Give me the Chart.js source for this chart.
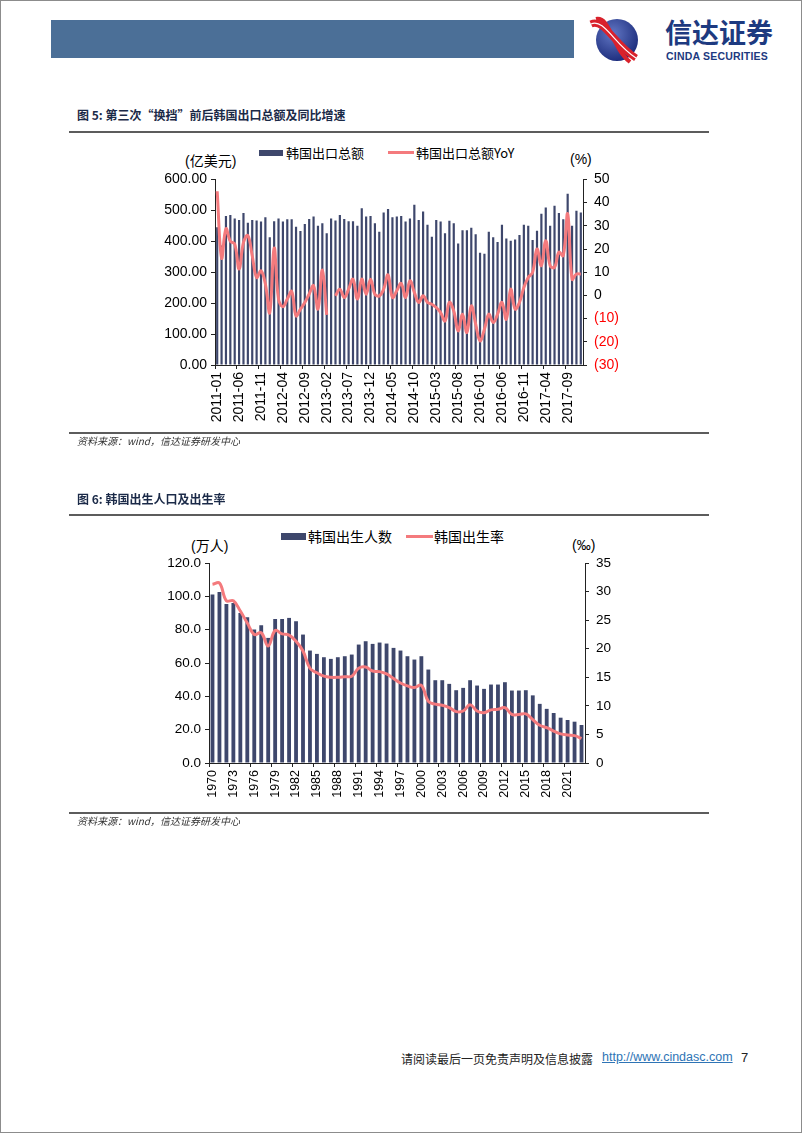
<!DOCTYPE html>
<html>
<head>
<meta charset="utf-8">
<script src="https://cdn.jsdelivr.net/npm/chart.js@4.4.0/dist/chart.umd.min.js"></script>
<style>
    html, body { margin: 0; padding: 0; background: #fff; }
    #page {
        position: relative; width: 802px; height: 1133px; box-sizing: border-box;
        border: 1px solid #8c8c8c; overflow: hidden;
        font-family: "Liberation Sans", Arial, "Noto Sans CJK SC", sans-serif; color: #000;
    }
    .abs { position: absolute; white-space: nowrap; }
    .band { left: 50px; top: 19px; width: 523px; height: 38px; background: #4b6f97; }
    .brand { left: 664px; top: 13px; font: bold 27px/36px "Noto Sans CJK SC", sans-serif; color: #1d3a80; }
    .brand-en { left: 665px; top: 49px; font: bold 10.5px/12px "Liberation Sans", Arial, sans-serif; color: #1d3a80; letter-spacing: 0.2px; }
    .fig-title { left: 76px; font: bold 12px "Noto Sans CJK SC", sans-serif; color: #1b2a48; }
    .rule { left: 68px; width: 640px; height: 2px; background: #5c5c5c; }
    .source { left: 76px; font: italic 10px "Noto Sans CJK SC", sans-serif; color: #333; }
    .legend-text { font-size: 13px; line-height: 16px; font-family: "Noto Sans CJK SC", sans-serif; }
    .axis-title { font-size: 14px; line-height: 16px; font-family: "Liberation Sans", "Noto Sans CJK SC", sans-serif; }
    .footer { top: 1049px; font: 12px "Noto Sans CJK SC", sans-serif; color: #222; }
    canvas { position: absolute; }
</style>
</head>
<body>
<div id="page">
    <!-- header -->
    <div class="abs band"></div>
    <svg class="abs" style="left:587px;top:15px" width="52" height="48" viewBox="0 0 52 48">
        <defs>
            <radialGradient id="lg" cx="40%" cy="35%" r="70%">
                <stop offset="0" stop-color="#6277c4"/>
                <stop offset="1" stop-color="#1a2a7a"/>
            </radialGradient>
        </defs>
        <circle cx="29" cy="24" r="21" fill="url(#lg)"/>
        <path d="M3 8 C 16 2, 26 28, 48 42" stroke="#d9222c" stroke-width="7" fill="none"/>
        <path d="M8 3 C 22 0, 24 32, 42 46" stroke="#d9222c" stroke-width="4" fill="none"/>
        <path d="M3 8 C 16 2, 26 28, 48 42" stroke="#fff" stroke-width="1.2" fill="none"/>
    </svg>
    <div class="abs brand">信达证券</div>
    <div class="abs brand-en">CINDA SECURITIES</div>

    <!-- figure 5 -->
    <div class="abs fig-title" style="top:105px">图 5: 第三次“换挡”前后韩国出口总额及同比增速</div>
    <div class="abs rule" style="top:130px"></div>
    <div class="abs" style="left:258px;top:149px;width:24px;height:6px;background:#3e476c"></div>
    <div class="abs legend-text" style="left:285px;top:144px">韩国出口总额</div>
    <div class="abs" style="left:387px;top:150px;width:26px;height:3px;background:#f47a7d"></div>
    <div class="abs legend-text" style="left:415px;top:144px">韩国出口总额YoY</div>
    <div class="abs axis-title" style="left:184px;top:152px">(亿美元)</div>
    <div class="abs axis-title" style="left:569px;top:150px">(%)</div>
    <canvas id="exportChart" width="490" height="277" style="left:140px;top:163px"></canvas>
    <div class="abs rule" style="top:431px"></div>
    <div class="abs source" style="top:432px">资料来源：wind，信达证券研发中心</div>

    <!-- figure 6 -->
    <div class="abs fig-title" style="top:489px">图 6: 韩国出生人口及出生率</div>
    <div class="abs rule" style="top:513px"></div>
    <div class="abs" style="left:280px;top:532px;width:25px;height:7px;background:#3e476c"></div>
    <div class="abs legend-text" style="left:307px;top:527px;font-size:14px">韩国出生人数</div>
    <div class="abs" style="left:405px;top:534px;width:27px;height:3px;background:#f47a7d"></div>
    <div class="abs legend-text" style="left:433px;top:527px;font-size:14px">韩国出生率</div>
    <div class="abs axis-title" style="left:190px;top:537px">(万人)</div>
    <div class="abs axis-title" style="left:571px;top:536px">(‰)</div>
    <canvas id="birthChart" width="500" height="265" style="left:130px;top:547px"></canvas>
    <div class="abs rule" style="top:811px"></div>
    <div class="abs source" style="top:812px">资料来源：wind，信达证券研发中心</div>

    <!-- footer -->
    <div class="abs footer" style="left:400px">请阅读最后一页免责声明及信息披露</div>
    <div class="abs footer" style="left:601px;font-family:'Liberation Sans',Arial,sans-serif;font-size:12.5px;color:#2e74b5;text-decoration:underline">http://www.cindasc.com</div>
    <div class="abs footer" style="left:740px;font-family:'Liberation Sans',Arial,sans-serif;font-size:13px">7</div>
</div>

<script>
/* ---------- data: Korea exports (monthly) ---------- */
const EXPORT_MONTHS = [];   // 2011-01 .. 2017-12
for (let y = 2011; y <= 2017; y++) {
    for (let m = 1; m <= 12; m++) EXPORT_MONTHS.push(y + '-' + String(m).padStart(2, '0'));
}

// 亿美元
const EXPORT_TOTAL = [
    445, 386, 482, 485, 474, 469, 491, 460, 469, 467, 464, 478,
    413, 465, 474, 464, 471, 471, 447, 433, 456, 472, 480, 450,
    458, 426, 474, 467, 485, 472, 465, 465, 450, 507, 480, 482,
    458, 431, 493, 504, 478, 480, 482, 464, 474, 518, 469, 496,
    453, 415, 469, 464, 426, 466, 458, 393, 436, 436, 444, 423,
    363, 360, 431, 413, 398, 453, 409, 402, 406, 420, 453, 450,
    404, 434, 489, 509, 450, 515, 491, 471, 554, 450, 499, 493
];

// %, null = no reading that month
const EXPORT_YOY = [
    44.9, 16.1, 28.7, 23.3, 22.2, 11.4, 22.9, 25.8, 17.1, 7.7, 10.6, 4.9,
    -7.4, 20.4, -1.6, -4.9, -1.6, 1.7, -8.8, -5.9, -3.1, 0.6, 4.2, -5.9,
    10.9, -8.4, null, -0.2, 2.7, -0.9, 2.7, 7.0, -1.6, 7.0, 0.5, 7.0,
    0.5, -0.2, 2.7, 8.9, -0.9, 2.0, 5.2, -0.9, 6.3, 1.3, -3.0, -0.2,
    -3.0, -3.8, -5.2, -7.4, -11.0, -3.0, -6.7, -15.3, -8.1, -16.0, -4.5, -12.4,
    -19.6, -14.6, -8.1, -11.7, -8.1, -3.0, -10.3, 2.7, -5.9, -3.0, 3.4, 7.7,
    9.9, 20.0, 12.8, 23.6, 12.8, 12.1, 18.6, 17.1, 35.2, 7.0, 9.2, 9.2
];

/* ---------- data: Korea births (annual) ---------- */
const BIRTH_YEARS = [];     // 1970 .. 2023
for (let y = 1970; y <= 2023; y++) BIRTH_YEARS.push(String(y));

// 万人
const BIRTHS = [
    101.1, 102.6, 95.5, 96.1, 90.1, 87.5, 80.1, 82.7, 75.1, 86.5,
    86.5, 87.1, 85.1, 77.1, 67.5, 65.5, 63.5, 62.5, 63.5, 64.1,
    65.1, 71.1, 73.1, 71.5, 72.3, 71.7, 69.1, 67.5, 64.1, 62.1,
    64.1, 56.1, 49.7, 49.7, 47.5, 43.7, 45.1, 49.7, 46.5, 44.5,
    47.1, 47.1, 48.5, 43.5, 43.5, 43.7, 40.6, 35.5, 32.5, 30.0,
    27.2, 25.8, 24.8, 22.8
];

// ‰
const BIRTH_RATE = [
    31.3, 31.5, 28.4, 28.4, 26.6, 24.5, 22.5, 22.8, 20.5, 23.2,
    22.6, 22.4, 21.3, 19.6, 16.6, 15.8, 15.2, 15.0, 15.0, 15.1,
    15.2, 16.6, 16.8, 16.1, 16.0, 15.6, 14.8, 14.0, 13.5, 13.2,
    13.6, 10.8, 10.3, 10.1, 9.7, 9.0, 9.1, 10.2, 9.1, 8.8,
    9.3, 9.4, 9.7, 8.5, 8.5, 8.6, 7.6, 6.6, 6.2, 5.6,
    5.1, 4.9, 4.8, 4.3
];

const BAR_COLOR = '#3e476c';
const LINE_COLOR = '#f47a7d';
const AXIS_COLOR = '#222';
const FONT_FAMILY = '"Liberation Sans", Arial, "Noto Sans CJK SC", sans-serif';

Chart.defaults.font.family = FONT_FAMILY;
Chart.defaults.color = '#000';

/**
 * Side axis with outward tick marks and no grid in the plot
 */
function sideAxis(position, min, max, width, ticks) {
    return {
        type: 'linear',
        position,
        min, max,
        afterFit: scale => { scale.width = width; },
        border: { display: true, color: AXIS_COLOR, width: 1 },
        grid: { drawOnChartArea: false, drawTicks: true, tickLength: 4, color: AXIS_COLOR },
        ticks
    };
}

/**
 * Category axis: vertical labels, tick mark on every n-th category edge
 */
function categoryAxis(every, height, fontSize) {
    return {
        type: 'category',
        offset: true,
        afterFit: scale => { scale.height = height; },
        border: { display: true, color: AXIS_COLOR, width: 1 },
        grid: {
            offset: true,
            drawOnChartArea: false,
            drawTicks: true,
            tickLength: 4,
            color: ctx => (ctx.index % every === 0 ? AXIS_COLOR : 'rgba(0,0,0,0)')
        },
        ticks: {
            autoSkip: false,
            minRotation: 90,
            maxRotation: 90,
            padding: 3,
            font: { size: fontSize },
            callback: function(value, index) {
                return index % every === 0 ? this.getLabelForValue(value) : '';
            }
        }
    };
}

// Figure 5 - exports and YoY
new Chart(document.getElementById('exportChart'), {
    type: 'bar',
    data: {
        labels: EXPORT_MONTHS,
        datasets: [
            {
                type: 'line',
                label: '韩国出口总额YoY',
                data: EXPORT_YOY,
                yAxisID: 'y1',
                borderColor: LINE_COLOR,
                borderWidth: 3,
                tension: 0.4,
                pointRadius: 0,
                spanGaps: false,
                order: 0
            },
            {
                label: '韩国出口总额',
                data: EXPORT_TOTAL,
                yAxisID: 'y',
                backgroundColor: BAR_COLOR,
                barPercentage: 0.5,
                categoryPercentage: 1.0,
                order: 1
            }
        ]
    },
    options: {
        responsive: false,
        animation: false,
        devicePixelRatio: 1,
        layout: { padding: 0 },
        plugins: { legend: { display: false }, tooltip: { enabled: false } },
        scales: {
            x: categoryAxis(5, 76, 14),
            y: sideAxis('left', 0, 600, 74, {
                stepSize: 100, padding: 4, font: { size: 14 }, callback: v => v.toFixed(2)
            }),
            y1: sideAxis('right', -30, 50, 48, {
                stepSize: 10, padding: 7, font: { size: 14 },
                color: ctx => (ctx.tick && ctx.tick.value < 0 ? '#ff0000' : '#000'),
                callback: v => (v < 0 ? '(' + (-v) + ')' : String(v))
            })
        }
    }
});

// Figure 6 - births and birth rate
new Chart(document.getElementById('birthChart'), {
    type: 'bar',
    data: {
        labels: BIRTH_YEARS,
        datasets: [
            {
                type: 'line',
                label: '韩国出生率',
                data: BIRTH_RATE,
                yAxisID: 'y1',
                borderColor: LINE_COLOR,
                borderWidth: 3,
                tension: 0.4,
                pointRadius: 0,
                order: 0
            },
            {
                label: '韩国出生人数',
                data: BIRTHS,
                yAxisID: 'y',
                backgroundColor: BAR_COLOR,
                barPercentage: 0.55,
                categoryPercentage: 1.0,
                order: 1
            }
        ]
    },
    options: {
        responsive: false,
        animation: false,
        devicePixelRatio: 1,
        layout: { padding: 0 },
        plugins: { legend: { display: false }, tooltip: { enabled: false } },
        scales: {
            x: categoryAxis(3, 50, 12.5),
            y: sideAxis('left', 0, 120, 78, {
                stepSize: 20, padding: 4, font: { size: 13.5 }, callback: v => v.toFixed(1)
            }),
            y1: sideAxis('right', 0, 35, 46, {
                stepSize: 5, padding: 7, font: { size: 13.5 }
            })
        }
    }
});
</script>
</body>
</html>
